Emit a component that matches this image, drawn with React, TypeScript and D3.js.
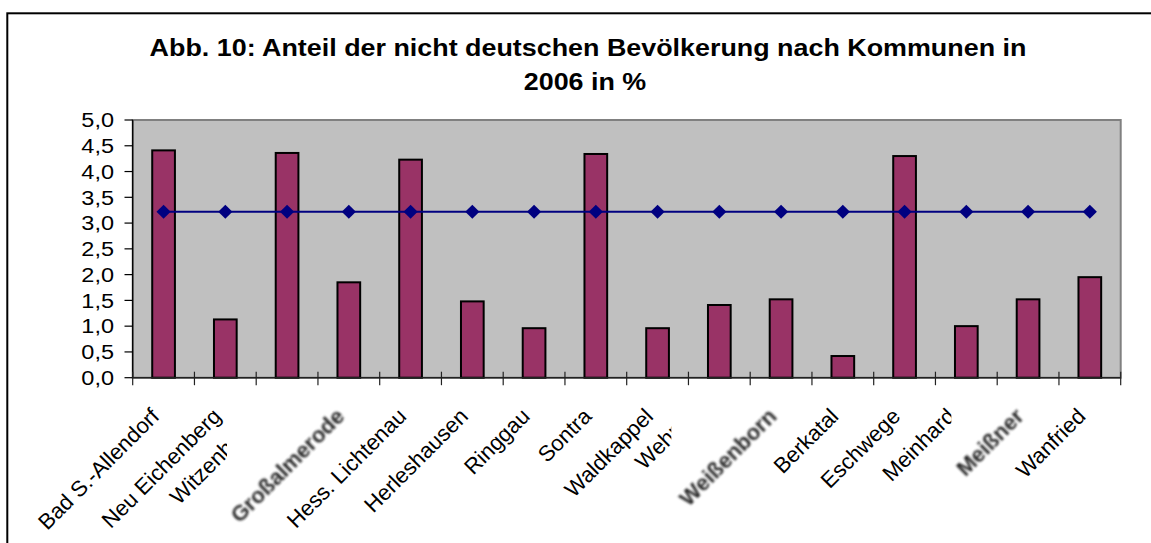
import React from 'react';
import * as d3 from 'd3';

// ---------- data ----------
const categories = [
  'Bad S.-Allendorf',
  'Neu Eichenberg',
  'Witzenhausen',
  'Großalmerode',
  'Hess. Lichtenau',
  'Herleshausen',
  'Ringgau',
  'Sontra',
  'Waldkappel',
  'Wehretal',
  'Weißenborn',
  'Berkatal',
  'Eschwege',
  'Meinhard',
  'Meißner',
  'Wanfried',
];
const shareValues = [4.43, 1.15, 4.38, 1.87, 4.25, 1.5, 0.98, 4.36, 0.98, 1.43, 1.54, 0.44, 4.32, 1.02, 1.54, 1.97];
const averageValues = [3.22, 3.22, 3.22, 3.22, 3.22, 3.22, 3.22, 3.22, 3.22, 3.22, 3.22, 3.22, 3.22, 3.22, 3.22, 3.22];
const yTicks = [0, 0.5, 1, 1.5, 2, 2.5, 3, 3.5, 4, 4.5, 5];
const titleLines = ['Abb. 10: Anteil der nicht deutschen Bevölkerung nach Kommunen in', '2006 in %'];

// ---------- layout ----------
const W = 1151;
const H = 543;
const plot = { left: 132.7, right: 1120.7, top: 120, bottom: 377.7 };
const SX = 1.12; // horizontal stretch of the source's horizontal text
const FONT = '"Liberation Sans", Arial, Helvetica, sans-serif';

// label tweaks (quirks of the original export): clipped / shifted labels
const labelLayout: Record<number, { anchor?: 'start' | 'end'; dx?: number; dy?: number; clipDx?: number }> = {
  2: { anchor: 'start', dx: -108, dy: 128, clipDx: -60 },
  9: { anchor: 'start', dx: -75, dy: 93, clipDx: -48 },
  13: { dx: -10, clipDx: -15 },
};
const blurred = new Set([3, 10, 14]);

export default function App() {
  const x = d3
    .scaleBand<string>()
    .domain(categories)
    .range([plot.left, plot.right])
    .paddingInner(0.6)
    .paddingOuter(0.3);
  const y = d3.scaleLinear().domain([0, 5]).range([plot.bottom, plot.top]);
  const step = x.step();
  const bw = x.bandwidth();
  const fmt = (v: number) => d3.format('.1f')(v).replace('.', ',');

  const line = d3
    .line<number>()
    .x((_, i) => x(categories[i])! + bw / 2)
    .y((d) => y(d));

  const diamond = d3.symbol().type(d3.symbolSquare).size(100)();

  const boundaries = d3.range(categories.length + 1).map((i) => plot.left + i * step);

  return (
    <svg
      width={W}
      height={H}
      style={{ position: 'absolute', left: 0, top: 0, background: '#fff' }}
      fontFamily={FONT}
    >
      <defs>
        <filter id="soft" x="-20%" y="-20%" width="140%" height="140%">
          <feGaussianBlur stdDeviation="0.85" />
        </filter>
        {categories.map((c, i) => {
          const lay = labelLayout[i];
          if (!lay || lay.clipDx === undefined) return null;
          const cx = x(c)! + bw / 2;
          return (
            <clipPath id={`clip${i}`} key={c}>
              <rect x={0} y={0} width={cx + lay.clipDx} height={H} />
            </clipPath>
          );
        })}
      </defs>
      <rect x={0} y={0} width={W} height={H} fill="#fff" />
      {/* outer chart border */}
      <rect x={7.3} y={13.3} width={1300} height={700} fill="none" stroke="#000" strokeWidth={2} />

      {/* title */}
      <g transform={`translate(588,55.7) scale(${SX},1)`}>
        <text textAnchor="middle" fontSize={24} fontWeight="bold" fill="#000">
          {titleLines[0]}
        </text>
      </g>
      <g transform={`translate(585,90) scale(${SX},1)`}>
        <text textAnchor="middle" fontSize={24} fontWeight="bold" fill="#000">
          {titleLines[1]}
        </text>
      </g>

      {/* plot area */}
      <rect
        x={plot.left}
        y={plot.top}
        width={plot.right - plot.left}
        height={plot.bottom - plot.top}
        fill="#C0C0C0"
        stroke="#808080"
        strokeWidth={2}
      />

      {/* bars */}
      {shareValues.map((v, i) => (
        <rect
          key={categories[i]}
          x={x(categories[i])! + 1}
          y={y(v) + 1}
          width={bw - 2}
          height={plot.bottom - y(v) - 1}
          fill="#993366"
          stroke="#000"
          strokeWidth={2}
        />
      ))}

      {/* axes */}
      <line x1={plot.left} x2={plot.left} y1={plot.top} y2={plot.bottom} stroke="#000" strokeWidth={1.3} />
      <line x1={plot.left} x2={plot.right} y1={plot.bottom} y2={plot.bottom} stroke="#222" strokeWidth={1.5} />
      {yTicks.map((t) => (
        <g key={t}>
          <line x1={124.5} x2={plot.left} y1={y(t)} y2={y(t)} stroke="#000" strokeWidth={1.2} />
          <g transform={`translate(114,${y(t) + 7.2}) scale(${SX},1)`}>
            <text textAnchor="end" fontSize={21} fill="#000">
              {fmt(t)}
            </text>
          </g>
        </g>
      ))}
      {boundaries.map((bx, i) => (
        <line key={i} x1={bx} x2={bx} y1={plot.bottom - 6} y2={plot.bottom + 7.5} stroke="#222" strokeWidth={1.2} />
      ))}

      {/* average line */}
      <path d={line(averageValues) || ''} fill="none" stroke="#000080" strokeWidth={2.2} />
      {averageValues.map((v, i) => (
        <path
          key={i}
          d={diamond || ''}
          transform={`translate(${x(categories[i])! + bw / 2},${y(v)}) rotate(45)`}
          fill="#000080"
        />
      ))}

      {/* category labels */}
      {categories.map((c, i) => {
        const cx = x(c)! + bw / 2;
        const lay = labelLayout[i] || {};
        const anchor = lay.anchor || 'end';
        const px = cx + (lay.dx ?? -3);
        const py = plot.bottom + (lay.dy ?? 40);
        const isBlur = blurred.has(i);
        return (
          <g key={c} clipPath={lay.clipDx !== undefined ? `url(#clip${i})` : undefined}>
            <g transform={`translate(${px},${py}) rotate(-45)`}>
              <text
                textAnchor={anchor}
                fontSize={22}
                fill={isBlur ? '#2a2a2a' : '#000'}
                filter={isBlur ? 'url(#soft)' : undefined}
                fontWeight={isBlur ? 'bold' : 'normal'}
              >
                {c}
              </text>
            </g>
          </g>
        );
      })}
    </svg>
  );
}
